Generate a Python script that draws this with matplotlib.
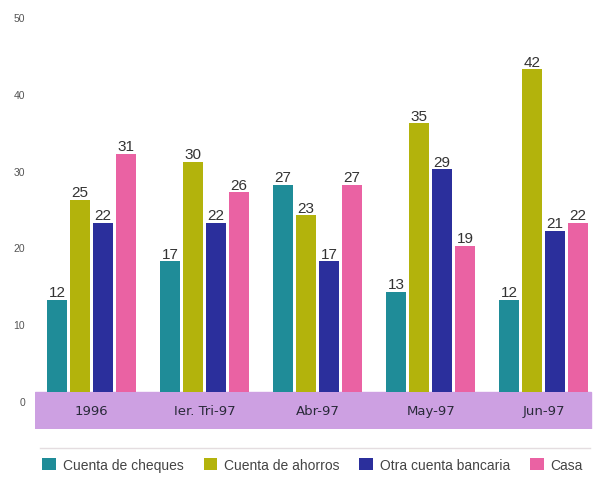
import matplotlib
matplotlib.use("Agg")
import matplotlib.pyplot as plt
from matplotlib.transforms import ScaledTranslation
import numpy as np

categories = ["1996", "Ier. Tri-97", "Abr-97", "May-97", "Jun-97"]
series_names = ["Cuenta de cheques", "Cuenta de ahorros", "Otra cuenta bancaria", "Casa"]
cheques = [12, 17, 27, 13, 12]
ahorros = [25, 30, 23, 35, 42]
otra = [22, 22, 17, 29, 21]
casa = [31, 26, 27, 19, 22]
yticks = [0, 10, 20, 30, 40, 50]

series = [cheques, ahorros, otra, casa]
colors = ["#1f8c98", "#b3b30c", "#2b2f9c", "#ea62a3"]

W, H = 598, 481
fig = plt.figure(figsize=(W / 100, H / 100), dpi=100)
plt.rcParams["font.family"] = ["Liberation Sans", "DejaVu Sans"]

# axes: pixel x 35..598, pixel y 0..430
ax = fig.add_axes([35 / W, 1 - 430 / H, (598 - 35) / W, 430 / H])
ax.set_xlim(-0.5, 4.48)
ytop = 393 / 7.68
ybot = -37 / 7.68
ax.set_ylim(ybot, ytop)
for s in ax.spines.values():
    s.set_visible(False)

x = np.arange(len(categories))
bw = 0.177
step = 0.2035
for i, (vals, col, name) in enumerate(zip(series, colors, series_names)):
    pos = x + (i - 1.5) * step
    ax.bar(pos, vals, width=bw, color=col, label=name, zorder=2)
    for p, v in zip(pos, vals):
        ax.annotate(str(v), (p, v), xytext=(0, 0.5), textcoords="offset points",
                    ha="center", va="bottom", fontsize=11, color="#333333")

# lavender band under bars
ax.axhspan(ybot, 0, xmin=0, xmax=(4.42 + 0.5) / 4.98, color="#cda0e2", zorder=1)
for xi, c in zip(x, categories):
    ax.text(xi, ybot / 2, c, ha="center", va="center", fontsize=9.5,
            color="#2a2a3a", family=["DejaVu Sans"])

ax.set_xticks([])
ax.set_yticks(yticks)
ax.set_yticklabels([str(t) for t in yticks])
ax.tick_params(axis="y", length=0, pad=7, labelsize=7.5, labelcolor="#555555")
off = ScaledTranslation(0, -0.09, fig.dpi_scale_trans)
for lab in ax.get_yticklabels():
    lab.set_transform(lab.get_transform() + off)

# thin separator line
fig.add_artist(plt.Line2D([40 / W, 590 / W], [1 - 449 / H, 1 - 449 / H],
                          color="#e4dde0", lw=1))

handles, labels = ax.get_legend_handles_labels()
fig.legend(handles, labels, loc="center", bbox_to_anchor=(0.523, 1 - 466 / H),
           ncol=4, frameon=False, fontsize=10, handlelength=1.0, handleheight=1.0,
           columnspacing=1.4, handletextpad=0.5, labelcolor="#444444")

fig.savefig("out.png", dpi=100)
